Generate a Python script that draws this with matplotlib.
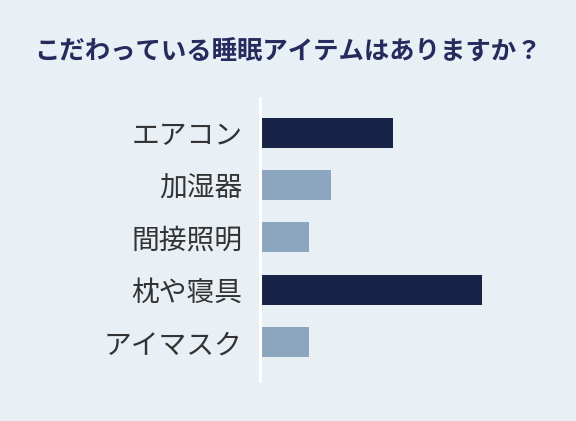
import matplotlib
matplotlib.use("Agg")
import matplotlib.pyplot as plt

plt.rcParams['font.family'] = ['Noto Sans CJK JP', 'DejaVu Sans']

title = "こだわっている睡眠アイテムはありますか？"
categories = ["エアコン", "加湿器", "間接照明", "枕や寝具", "アイマスク"]
values = [30, 16, 11, 50, 11]
highlight = [True, False, False, True, False]

bg = "#e9f0f5"
dark = "#172447"
light = "#8da6c0"

fig = plt.figure(figsize=(5.76, 4.21), dpi=100, facecolor=bg)
ax = fig.add_axes([260/576, 40/421, 266/576, 283/421], facecolor=bg)

colors = [dark if h else light for h in highlight]
ax.barh(range(len(categories)), values, height=0.575, color=colors, zorder=1)
ax.set_xlim(0, 60)
ax.set_ylim(4.75, -0.67)
ax.set_yticks(range(len(categories)))
ax.set_yticklabels(categories, fontsize=20, color="#333333")
ax.tick_params(axis='y', length=0, pad=12.5)
ax.set_xticks([])
for s in ['top', 'right', 'bottom']:
    ax.spines[s].set_visible(False)
ax.spines['left'].set_color('white')
ax.spines['left'].set_linewidth(2.2)
ax.spines['left'].set_zorder(3)

fig.text(0.5, 1 - 52/421, title, ha='center', va='center', fontsize=18.3,
         fontweight='bold', color="#262b5e")

fig.savefig("out.png", dpi=100, facecolor=bg)
